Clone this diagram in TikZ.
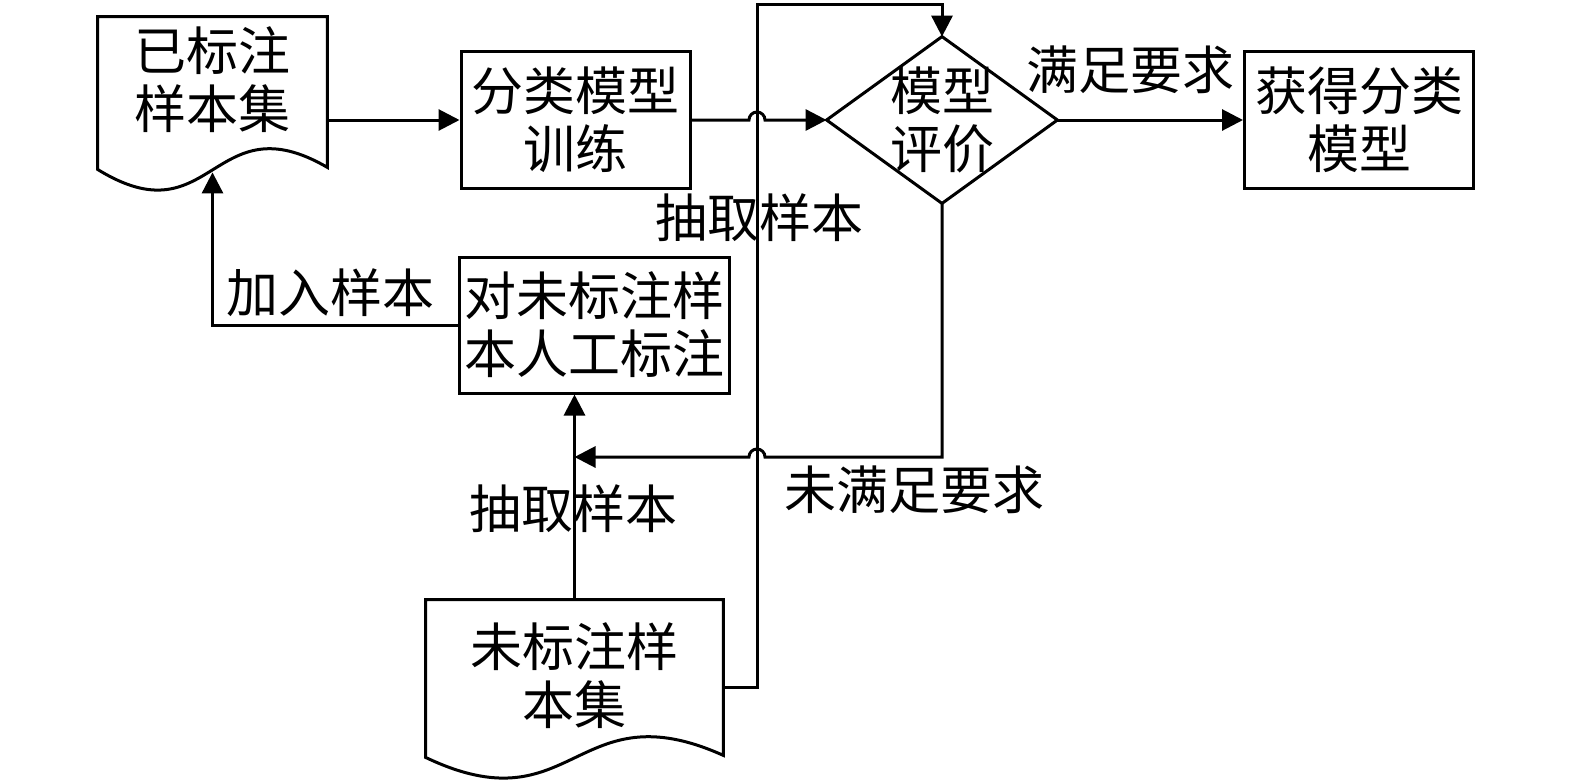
\documentclass[tikz,border=0pt]{standalone}
\usepackage{fontspec}
\newfontfamily\cjk{Noto Sans CJK SC}
\usetikzlibrary{arrows.meta,calc}

\begin{document}
\begin{tikzpicture}[x=0.5pt,y=0.5pt,
	every node/.style={inner sep=0pt, align=center, font=\cjk\fontsize{26pt}{29pt}\selectfont},
	line/.style={line width=1.5pt},
	arr/.style={line width=1.5pt, -{Triangle[length=10.5pt,width=10.5pt]}},
	box/.style={draw, line width=1.5pt, minimum width=114.5pt, minimum height=68.5pt},
	docu/.style={minimum width=#1}]
	\useasboundingbox (0,0) rectangle (1575,-783);
	\node [docu=114.5pt, minimum height=63pt] (labeled) at (212.5,-80) {已标注\\样本集};
	\node [box] (train) at (575.5,-120) {分类模型\\训练};
	\node [minimum width=115pt, minimum height=83pt] (eval) at (942,-120) {模型\\评价};
	\node [box] (result) at (1359,-120) {获得分类\\模型};
	\node [box, minimum width=135pt, minimum height=68pt] (mark) at (594,-325) {对未标注样\\本人工标注};
	\node [docu=148.5pt, minimum height=76pt] (unlabeled) at (574.5,-676) {未标注样\\本集};
	\node (join) at (330,-293) {加入样本};
	\node (pickup) at (759,-218) {抽取样本};
	\node (pickdown) at (573.5,-509) {抽取样本};
	\node (fit) at (1130,-70) {满足要求};
	\node (nofit) at (914,-490) {未满足要求};
	\coordinate (bus) at (757,-4);
	\coordinate (fail) at (942,-457);
	\draw [line] (labeled.north west) -- (labeled.north east) -- ($(labeled.south east)+(0,-24)$)
		.. controls ($(labeled.south)+(0,43)$) and ($(labeled.south)+(0,-97)$) .. ($(labeled.south west)+(0,-26)$) -- cycle;
	\draw [line] (unlabeled.north west) -- (unlabeled.north east) -- ($(unlabeled.south east)+(0,-3)$)
		.. controls ($(unlabeled.south)+(0,64)$) and ($(unlabeled.south)+(0,-76)$) .. ($(unlabeled.south west)+(0,-5)$) -- cycle;
	\draw [line] (eval.west) -- (eval.north) -- (eval.east) -- (eval.south) -- cycle;
	\draw [arr] (labeled.east |- train.west) -- (train.west);
	\draw [arr] (train.east) -- ($(train.east -| bus)+(-8,0)$) arc [start angle=180, end angle=0, radius=8] -- (eval.west);
	\draw [arr] (eval.east) -- (result.west);
	\draw [arr] (eval.south) -- (fail) -- ($(fail -| bus)+(8,0)$) arc [start angle=0, end angle=180, radius=8] -- (fail -| unlabeled.north);
	\draw [arr] (unlabeled.north) -- (unlabeled.north |- mark.south);
	\draw [arr] ($(unlabeled.east)+(0,-11)$) -| (bus) -| (eval.north);
	\draw [arr] (mark.west) -| ($(labeled.south)+(0,-29)$);
\end{tikzpicture}
\end{document}
